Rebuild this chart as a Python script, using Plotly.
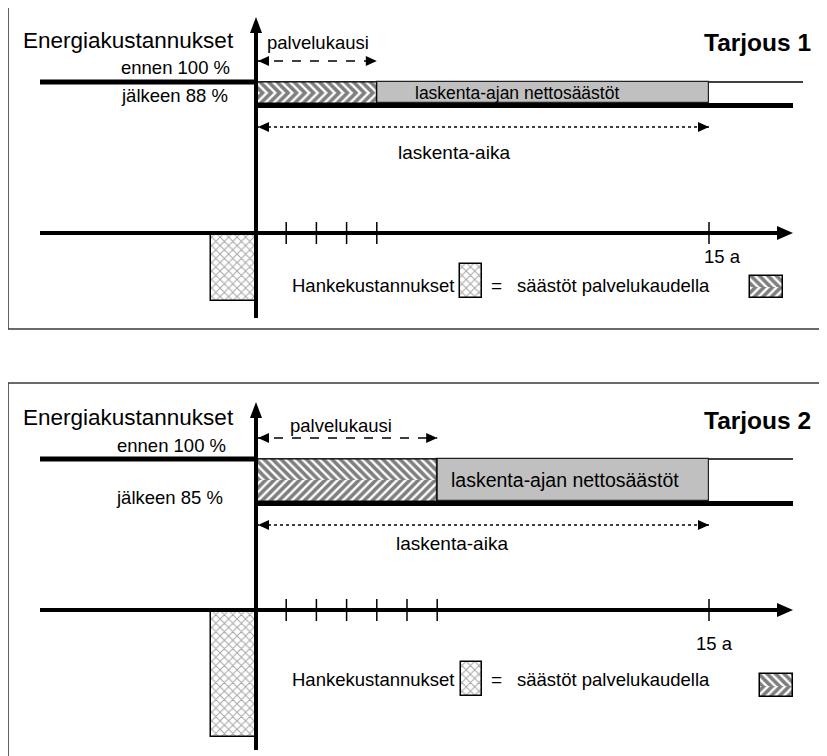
import plotly.graph_objects as go

# ---------------- data ----------------
offers = ["Tarjous 1", "Tarjous 2"]
before_pct = [100, 100]          # energy costs before (%)
after_pct = [88, 85]             # energy costs after (%)
service_years = [4, 6]           # palvelukausi (years)
horizon_years = 15               # laskenta-aika (years)
project_cost = [48, 90]          # hankekustannukset = savings during service period (%·a)
tick_years = [[1, 2, 3, 4], [1, 2, 3, 4, 5, 6]]
horizon_label = "15 a"

# ---------------- layout constants (reference pixels) ----------------
W, H = 827, 756
OFF = 8                      # page body margin of the rendered html
ORIGIN_COL = 256
PX_PER_YEAR = 30.2
BEFORE_ROW = [82, 459]
PX_PER_PCT = [1.75, 2.8]
AXIS_DROP = 151
PX_PER_COST = 1.41
LEFT_COL = 40
AXIS_END_COL = 793
THIN_END_COL = [803, 793]
THICK_END_COL = 793
VAXIS_TOP = [65, 57]          # px above "before" line
VAXIS_BOTTOM = [85, 140]      # px below time axis
PANEL_BOX = [(8, 6, 826, 329), (8, 383, 826, 775)]

FONT = "Liberation Sans, Arial, sans-serif"
INK = "#000000"


def col2x(c):
    return (c - ORIGIN_COL) / PX_PER_YEAR


def energy_range(p):
    r0, k, v0 = BEFORE_ROW[p], PX_PER_PCT[p], before_pct[p]
    return [v0 - (OFF + H - r0) / k, v0 + (r0 - OFF) / k]


def cost_range(p):
    r0 = BEFORE_ROW[p] + AXIS_DROP
    return [-(OFF + H - r0) / PX_PER_COST, (r0 - OFF) / PX_PER_COST]


def pxx(col):
    return (col - OFF) / W


def pxy(row):
    return 1 - (row - OFF) / H


eref = ["y", "y2"]
cref = ["y3", "y4"]

fig = go.Figure()
shapes = []
annotations = []


def tri(x, y, yref, path):
    shapes.append(dict(type="path", xref="x", yref=yref, xsizemode="pixel",
                       ysizemode="pixel", xanchor=x, yanchor=y, path=path,
                       fillcolor=INK, line=dict(width=0)))


def text(t, col, row, size=19, xanchor="center", bold=False):
    annotations.append(dict(
        text=f"<b>{t}</b>" if bold else t, x=pxx(col), y=pxy(row),
        xref="paper", yref="paper", xanchor=xanchor, yanchor="middle",
        showarrow=False, font=dict(family=FONT, size=size, color=INK)))


HATCH = dict(fgcolor=INK, bgcolor="white", size=6, solidity=0.6)
CROSS = dict(shape="x", fgcolor="#4a4a4a", bgcolor="white", size=6, solidity=0.3)


def swatch_bar(p, c0, c1, r0, r1, pattern, linew):
    fig.add_trace(go.Bar(
        x=[col2x((c0 + c1) / 2)], y=[(r1 - r0) / PX_PER_COST],
        base=[-r1 / PX_PER_COST], width=[(c1 - c0) / PX_PER_YEAR],
        xaxis="x", yaxis=cref[p], hoverinfo="skip",
        marker=dict(color="white", pattern=pattern,
                    line=dict(color=INK, width=linew))))


# legend positions per panel (px below time axis / columns)
LEG_ROW = [52, 69]
CROSS_SW = [(460, 482, 31, 65), (461, 482, 52, 86)]
HATCH_SW = [(750, 783, 43, 65), (760, 793, 64, 87)]

TXT = dict(
    energia=[(128, 40), (128, 417)],
    ennen=[(232, 68), (228, 445)],
    jalkeen=[(230, 95), (225, 497)],
    palvelu=[(318, 43), (341, 425)],
    tarjous=[(813, 43), (813, 420)],
    aika=[(454, 152), (452, 543)],
    h15=[(722, 257), (714, 643)],
)
NETTO_SIZE = [17.5, 19.5]
NETTO_SHIFT = [36, 12]

for p in range(2):
    b, a, s = before_pct[p], after_pct[p], service_years[p]
    d = b - a
    ey, cy = eref[p], cref[p]

    # panel frame
    x0, y0, x1, y1 = PANEL_BOX[p]
    shapes.append(dict(type="rect", xref="paper", yref="paper",
                       x0=pxx(x0), x1=pxx(x1), y0=pxy(y1), y1=pxy(y0),
                       line=dict(color="#3a3a3a", width=1.6), fillcolor="rgba(0,0,0,0)"))

    # level lines
    shapes.append(dict(type="line", xref="x", yref=ey, x0=col2x(LEFT_COL), x1=0,
                       y0=b, y1=b, line=dict(color=INK, width=5)))
    shapes.append(dict(type="line", xref="x", yref=ey, x0=0, x1=col2x(THIN_END_COL[p]),
                       y0=b, y1=b, line=dict(color=INK, width=1.3), layer="below"))
    shapes.append(dict(type="rect", xref="x", yref=ey, x0=0, x1=col2x(THICK_END_COL),
                       ysizemode="pixel", yanchor=a, y0=-5, y1=0,
                       fillcolor=INK, line=dict(width=0)))

    # savings during service period (hatched halves)
    fig.add_trace(go.Bar(
        orientation="h", x=[s], base=[0], y=[a + 0.75 * d], width=[d / 2],
        xaxis="x", yaxis=ey, hoverinfo="skip",
        marker=dict(color="white", line=dict(width=0),
                    pattern=dict(shape="\\", **HATCH))))
    fig.add_trace(go.Bar(
        orientation="h", x=[s], base=[0], y=[a + 0.25 * d], width=[d / 2],
        xaxis="x", yaxis=ey, hoverinfo="skip",
        marker=dict(color="white", line=dict(width=0),
                    pattern=dict(shape="/", **HATCH))))
    shapes.append(dict(type="rect", xref="x", yref=ey, x0=0, x1=s, y0=a, y1=b,
                       line=dict(color=INK, width=1), fillcolor="rgba(0,0,0,0)"))

    # net savings over calculation period
    fig.add_trace(go.Bar(
        orientation="h", x=[horizon_years - s], base=[s], y=[(a + b) / 2], width=[d],
        xaxis="x", yaxis=ey, hoverinfo="skip",
        marker=dict(color="#c0c0c0", line=dict(color="#222222", width=1.2))))
    annotations.append(dict(
        text="laskenta-ajan nettosäästöt", x=s, y=(a + b) / 2, xref="x", yref=ey,
        xanchor="left", yanchor="middle", xshift=NETTO_SHIFT[p], showarrow=False,
        font=dict(family=FONT, size=NETTO_SIZE[p], color=INK)))

    # project cost box
    fig.add_trace(go.Bar(
        x=[col2x(ORIGIN_COL - 23)], y=[-project_cost[p]], base=[0],
        width=[45 / PX_PER_YEAR], xaxis="x", yaxis=cy, hoverinfo="skip",
        marker=dict(color="white", pattern=CROSS,
                    line=dict(color=INK, width=1.5))))

    # palvelukausi dashed arrow
    shapes.append(dict(type="line", xref="x", yref=ey, x0=0, x1=s,
                       ysizemode="pixel", yanchor=b, y0=21, y1=21,
                       line=dict(color=INK, width=1.5, dash="dash")))
    tri(0, b, ey, "M 2 21 L 13 26 L 13 16 Z")
    tri(s, b, ey, "M 0 21 L -11 26 L -11 16 Z")

    # laskenta-aika dotted arrow
    shapes.append(dict(type="line", xref="x", yref=ey, x0=0, x1=horizon_years,
                       ysizemode="pixel", yanchor=a, y0=-24, y1=-24,
                       line=dict(color=INK, width=1.3, dash="dot")))
    tri(0, a, ey, "M 2 -24 L 13 -19 L 13 -29 Z")
    tri(horizon_years, a, ey, "M 0 -24 L -11 -19 L -11 -29 Z")

    # time axis
    shapes.append(dict(type="line", xref="x", yref=cy, x0=col2x(LEFT_COL),
                       x1=col2x(AXIS_END_COL - 8), y0=0, y1=0,
                       line=dict(color=INK, width=4)))
    tri(col2x(AXIS_END_COL), 0, cy, "M 0 0 L -16 7 L -16 -7 Z")
    for t in tick_years[p] + [horizon_years]:
        shapes.append(dict(type="line", xref="x", yref=cy, x0=t, x1=t,
                           ysizemode="pixel", yanchor=0, y0=-11, y1=11,
                           line=dict(color=INK, width=1.5)))

    # vertical (energy cost) axis
    top_px = AXIS_DROP + VAXIS_TOP[p]
    shapes.append(dict(type="line", xref="x", yref=cy, x0=0, x1=0,
                       ysizemode="pixel", yanchor=0, y0=-VAXIS_BOTTOM[p], y1=top_px - 8,
                       line=dict(color=INK, width=4)))
    tri(0, 0, cy, f"M 0 {top_px} L -6 {top_px - 16} L 6 {top_px - 16} Z")

    # legend swatches
    c0, c1, r0, r1 = CROSS_SW[p]
    swatch_bar(p, c0, c1, r0, r1, CROSS, 1.5)
    c0, c1, r0, r1 = HATCH_SW[p]
    rm = (r0 + r1) / 2
    swatch_bar(p, c0, c1, r0, rm, dict(shape="\\", **HATCH), 0)
    swatch_bar(p, c0, c1, rm, r1, dict(shape="/", **HATCH), 0)
    fig.add_trace(go.Bar(
        x=[col2x((c0 + c1) / 2)], y=[(r1 - r0) / PX_PER_COST],
        base=[-r1 / PX_PER_COST], width=[(c1 - c0) / PX_PER_YEAR],
        xaxis="x", yaxis=cy, hoverinfo="skip",
        marker=dict(color="rgba(0,0,0,0)", line=dict(color=INK, width=1.5))))

    # texts
    text("Energiakustannukset", *TXT["energia"][p], size=22.5)
    text(f"ennen {before_pct[p]} %", *TXT["ennen"][p], size=18.5, xanchor="right")
    text(f"jälkeen {after_pct[p]} %", *TXT["jalkeen"][p], size=18.5, xanchor="right")
    text("palvelukausi", *TXT["palvelu"][p], size=18.5)
    text(offers[p], *TXT["tarjous"][p], size=24.5, xanchor="right", bold=True)
    text("laskenta-aika", *TXT["aika"][p])
    text(horizon_label, *TXT["h15"][p], size=18.5)
    axis_row = BEFORE_ROW[p] + AXIS_DROP
    lr = axis_row + LEG_ROW[p]
    text("Hankekustannukset", 290, lr, size=18.5, xanchor="left")
    text("=", 496, lr)
    text("säästöt palvelukaudella", 515, lr, size=18.5, xanchor="left")

hidden = dict(visible=False, fixedrange=True, showgrid=False, zeroline=False)
fig.update_layout(
    width=W, height=H,
    margin=dict(l=0, r=0, t=0, b=0),
    paper_bgcolor="white", plot_bgcolor="white",
    showlegend=False, barmode="overlay", bargap=0,
    xaxis=dict(range=[col2x(OFF), col2x(OFF + W)], domain=[0, 1], **hidden),
    yaxis=dict(range=energy_range(0), domain=[0, 1], **hidden),
    yaxis2=dict(range=energy_range(1), overlaying="y", anchor="x", **hidden),
    yaxis3=dict(range=cost_range(0), overlaying="y", anchor="x", **hidden),
    yaxis4=dict(range=cost_range(1), overlaying="y", anchor="x", **hidden),
    shapes=shapes,
    annotations=annotations,
    font=dict(family=FONT, color=INK),
)

fig.write_html("out.html")
